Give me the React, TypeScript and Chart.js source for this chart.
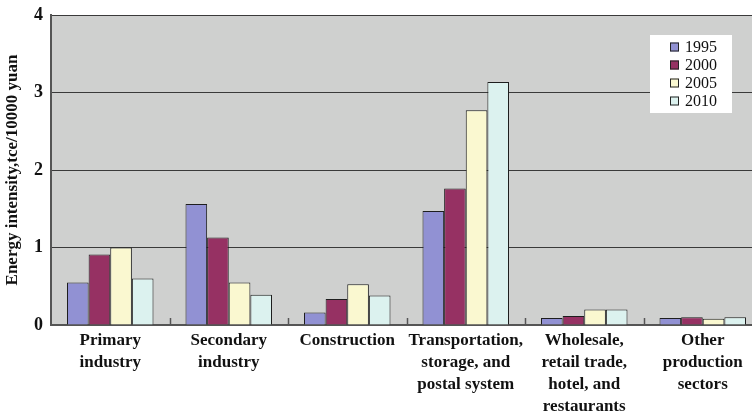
import React, { useEffect, useRef } from "react";
import { Chart, registerables } from "chart.js";

Chart.register(...registerables);

const categories: string[][] = [
  ["Primary", "industry"],
  ["Secondary", "industry"],
  ["Construction"],
  ["Transportation,", "storage, and", "postal system"],
  ["Wholesale,", "retail trade,", "hotel, and", "restaurants"],
  ["Other", "production", "sectors"],
];

const years = ["1995", "2000", "2005", "2010"];

const values1995 = [0.55, 1.56, 0.16, 1.47, 0.09, 0.09];
const values2000 = [0.91, 1.13, 0.335, 1.76, 0.115, 0.1];
const values2005 = [1.0, 0.55, 0.525, 2.77, 0.2, 0.08];
const values2010 = [0.6, 0.39, 0.38, 3.135, 0.2, 0.1];

const yTicks = [0, 1, 2, 3, 4];

const seriesColors = ["#9191d3", "#963163", "#faf8d0", "#dcf2ef"];

const SERIF = "'Liberation Serif', 'Times New Roman', serif";

const bgPlugin = {
  id: "plotBg",
  beforeDraw(chart: any) {
    const { ctx, chartArea } = chart;
    ctx.save();
    ctx.fillStyle = "#cfd0cf";
    ctx.fillRect(chartArea.left, chartArea.top, chartArea.right - chartArea.left, chartArea.bottom - chartArea.top);
    ctx.restore();
  },
};

const catTickPlugin = {
  id: "catTicks",
  afterDatasetsDraw(chart: any) {
    const { ctx, chartArea } = chart;
    const xs = chart.scales.x;
    ctx.save();
    ctx.strokeStyle = "#555";
    ctx.lineWidth = 1.5;
    for (let i = 1; i < categories.length; i++) {
      const x = Math.round((xs.getPixelForTick(i - 1) + xs.getPixelForTick(i)) / 2) + 0.5;
      ctx.beginPath();
      ctx.moveTo(x, chartArea.bottom - 7);
      ctx.lineTo(x, chartArea.bottom);
      ctx.stroke();
    }
    ctx.restore();
  },
};

const legendPlugin = {
  id: "boxLegend",
  afterDraw(chart: any) {
    const { ctx, chartArea } = chart;
    const bx = chartArea.right - 112;
    const by = chartArea.top + 20;
    ctx.save();
    ctx.fillStyle = "#ffffff";
    ctx.fillRect(bx, by, 82, 78);
    ctx.font = `16px ${SERIF}`;
    ctx.textBaseline = "middle";
    ctx.textAlign = "left";
    chart.data.datasets.forEach((ds: any, i: number) => {
      const cy = by + 12 + i * 18;
      ctx.fillStyle = ds.backgroundColor;
      ctx.fillRect(bx + 20, cy - 4.5, 9, 9);
      ctx.strokeStyle = "#222";
      ctx.lineWidth = 1;
      ctx.strokeRect(bx + 20.5, cy - 4, 8, 8);
      ctx.fillStyle = "#111";
      ctx.fillText(ds.label, bx + 35, cy + 1);
    });
    ctx.restore();
  },
};

export default function App() {
  const ref = useRef<HTMLCanvasElement | null>(null);

  useEffect(() => {
    if (!ref.current) return;
    const allValues = [values1995, values2000, values2005, values2010];
    const chart = new Chart(ref.current, {
      type: "bar",
      data: {
        labels: categories,
        datasets: years.map((y, i) => ({
          label: y,
          data: allValues[i],
          backgroundColor: seriesColors[i],
          borderColor: "#1e1e1e",
          borderWidth: 1,
          barPercentage: 1,
          categoryPercentage: 0.73,
        })),
      },
      options: {
        responsive: false,
        animation: false,
        layout: { padding: { top: 15, right: 3, left: 0, bottom: 0 } },
        plugins: {
          legend: { display: false },
          tooltip: { enabled: false },
        },
        scales: {
          x: {
            grid: { display: false, drawTicks: false },
            border: { display: true, color: "#555", width: 2 },
            ticks: {
              color: "#111",
              padding: 4,
              maxRotation: 0,
              autoSkip: false,
              font: { family: SERIF, size: 17, weight: "bold", lineHeight: 1.31 },
            },
            afterFit(scale: any) {
              scale.height = 90;
              scale.paddingLeft = 0;
              scale.paddingRight = 0;
            },
          },
          y: {
            min: 0,
            max: 4,
            afterBuildTicks(scale: any) {
              scale.ticks = yTicks.map((v) => ({ value: v }));
            },
            grid: { color: "#3a3a3a", lineWidth: 1, drawTicks: false },
            border: { display: true, color: "#555", width: 2 },
            ticks: {
              color: "#111",
              padding: 8,
              font: { family: SERIF, size: 18, weight: "bold" },
            },
            title: {
              display: true,
              text: "Energy intensity,tce/10000 yuan",
              color: "#111",
              padding: { top: 2, bottom: 0 },
              font: { family: SERIF, size: 17, weight: "bold" },
            },
            afterFit(scale: any) {
              scale.width = 51;
              scale.paddingTop = 0;
              scale.paddingBottom = 0;
            },
          },
        },
      },
      plugins: [bgPlugin, catTickPlugin, legendPlugin],
    });
    return () => chart.destroy();
  }, []);

  return (
    <div style={{ position: "fixed", left: 0, top: 0, width: 752, height: 415, overflow: "hidden", background: "#fff" }}>
      <canvas ref={ref} width={765} height={415} style={{ display: "block" }} />
    </div>
  );
}
